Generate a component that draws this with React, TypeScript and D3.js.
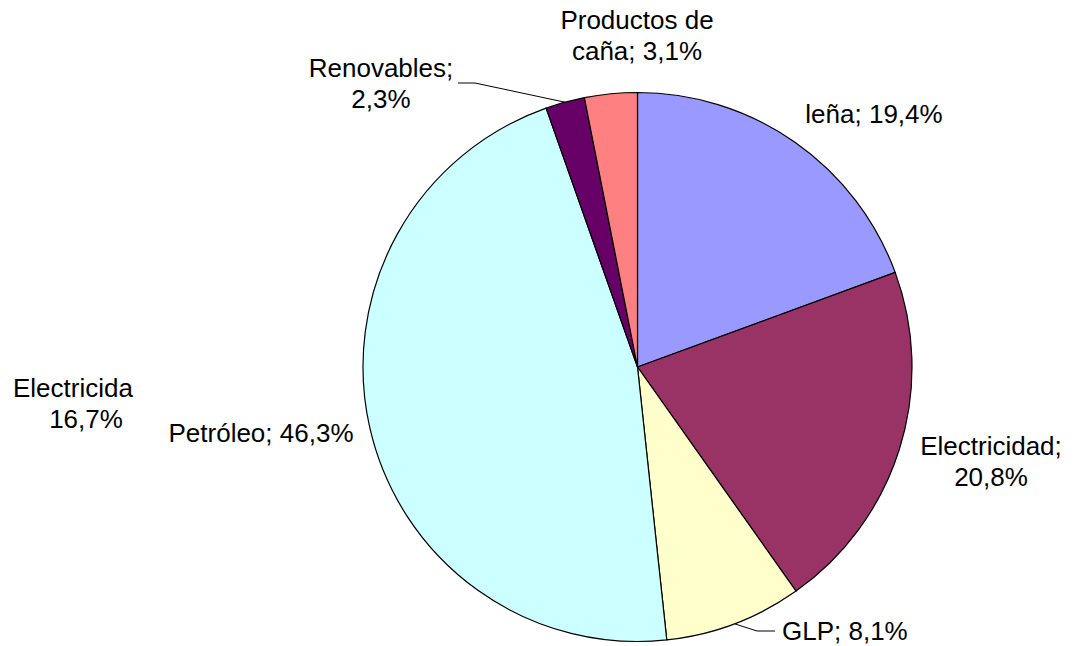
import React from "react";
import * as d3 from "d3";

const categories = ["leña", "Electricidad", "GLP", "Petróleo", "Renovables", "Productos de caña"];
const values = [19.4, 20.8, 8.1, 46.3, 2.3, 3.1];
const colors = ["#9999FF", "#993366", "#FFFFCC", "#CCFFFF", "#660066", "#FF8080"];
const labelLines = [
  ["leña; 19,4%"],
  ["Electricidad;", "20,8%"],
  ["GLP; 8,1%"],
  ["Petróleo; 46,3%"],
  ["Renovables;", "2,3%"],
  ["Productos de", "caña; 3,1%"],
];
// layout: label anchor positions (x, first baseline, anchor)
const labelLayout = [
  { x: 874, y: 123, anchor: "middle" },
  { x: 991, y: 455, anchor: "middle" },
  { x: 782, y: 640, anchor: "start" },
  { x: 261, y: 442, anchor: "middle" },
  { x: 381, y: 77, anchor: "middle" },
  { x: 637, y: 29, anchor: "middle" },
];
const strayLabel = ["Electricida", "16,7%"];

export default function App() {
  const W = 1082, H = 646;
  const cx = 637.5, cy = 367, r = 274.5;
  const pie = d3.pie<number>().sort(null).value((d) => d)(values);
  const arc = d3.arc<d3.PieArcDatum<number>>().innerRadius(0).outerRadius(r);
  const edge = (d: d3.PieArcDatum<number>) => {
    const a = (d.startAngle + d.endAngle) / 2;
    return [cx + r * Math.sin(a), cy - r * Math.cos(a)];
  };
  const renov = edge(pie[4]);
  const glp = edge(pie[2]);
  const font = "'Liberation Sans', Arial, sans-serif";
  return (
    <svg width={W} height={H} style={{ position: "absolute", left: 0, top: 0, background: "#fff" }} fontFamily={font}>
      <g transform={`translate(${cx},${cy})`}>
        {pie.map((d, i) => (
          <path key={categories[i]} d={arc(d) || ""} fill={colors[i]} stroke="#000" strokeWidth={1.2} />
        ))}
      </g>
      <polyline points={`458,83 475,83 ${renov[0]},${renov[1]}`} fill="none" stroke="#000" strokeWidth={1} />
      <polyline points={`${glp[0]},${glp[1]} 757,631 775,631`} fill="none" stroke="#000" strokeWidth={1} />
      {labelLines.map((lines, i) => (
        <text key={i} fontSize={26} fill="#000" textAnchor={labelLayout[i].anchor as any}>
          {lines.map((t, j) => (
            <tspan key={j} x={labelLayout[i].x} y={labelLayout[i].y + j * 31}>{t}</tspan>
          ))}
        </text>
      ))}
      <text fontSize={26} fill="#000">
        <tspan x={13} y={397}>{strayLabel[0]}</tspan>
        <tspan x={86} y={428} textAnchor="middle">{strayLabel[1]}</tspan>
      </text>
    </svg>
  );
}
